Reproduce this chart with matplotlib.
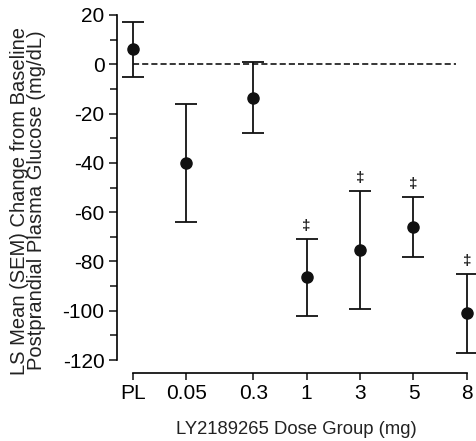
import matplotlib
matplotlib.use("Agg")
import matplotlib.pyplot as plt
import numpy as np
from matplotlib.ticker import MultipleLocator

plt.rcParams['font.family'] = ['Liberation Sans', 'DejaVu Sans']
plt.rcParams['axes.unicode_minus'] = False

groups = ['PL', '0.05', '0.3', '1', '3', '5', '8']
positions = [0, 1, 2.25, 3.25, 4.25, 5.25, 6.25]
means = [6, -40, -13.5, -86.5, -75.5, -66, -101]
sem = [11, 24, 14.5, 15.5, 24, 12, 16]
significant = [False, False, False, True, True, True, True]

W, H = 476, 441
fig = plt.figure(figsize=(W / 100, H / 100), dpi=100)
left = 117 / W
bottom = 1 - 360 / H
top = 1 - 15 / H
ax = fig.add_axes([left, bottom, 1 - left, top - bottom])

ax.hlines(0, positions[0], positions[-1] - 0.2, colors='black', linestyles=(0, (4, 2)), lw=1.1)
ax.errorbar(positions, means, yerr=sem, fmt='o', color='#111111', ms=8,
            capsize=8, elinewidth=1.3, capthick=1.3, clip_on=False, zorder=3)
for x, m, s, sig in zip(positions, means, sem, significant):
    if sig:
        ax.text(x, m + s + 2.5, '‡', ha='center', va='bottom', fontsize=11,
                fontweight='bold', color='#222222')

ax.set_ylim(-120, 20)
ax.set_xlim(-0.3, 6.42)
ax.set_xticks(positions)
ax.set_xticklabels(groups)
ax.yaxis.set_major_locator(MultipleLocator(20))
ax.yaxis.set_minor_locator(MultipleLocator(10))
for s in ['top', 'right']:
    ax.spines[s].set_visible(False)
ax.spines['bottom'].set_position(('outward', 9.5))
ax.spines['bottom'].set_bounds(positions[0], positions[-1])
for s in ['left', 'bottom']:
    ax.spines[s].set_linewidth(1.2)
ax.tick_params(axis='both', which='both', direction='out', width=1.2, labelsize=15, color='#222222')
ax.tick_params(axis='y', which='major', length=6, pad=3)
ax.tick_params(axis='y', which='minor', length=5)
ax.tick_params(axis='x', length=5, pad=3)
ax.set_ylabel('LS Mean (SEM) Change from Baseline\nPostprandial Plasma Glucose (mg/dL)',
              fontsize=14.5, linespacing=0.9, color='#222222')
ax.yaxis.set_label_coords(-0.197, 0.462)
ax.set_xlabel('LY2189265 Dose Group (mg)', fontsize=13.3, labelpad=13, color='#222222')
ax.set_facecolor('none')

fig.savefig('out.png', dpi=100)
